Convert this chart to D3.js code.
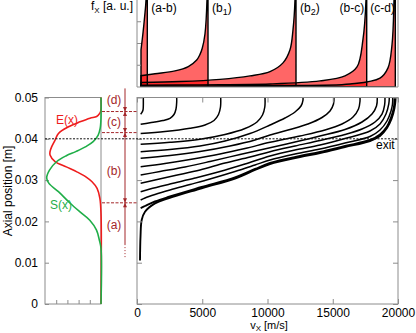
<!DOCTYPE html>
<html>
<head>
<meta charset="utf-8">
<script src="https://cdn.jsdelivr.net/npm/d3@7"></script>
<style>
  body { margin: 0; background: #fff; }
  svg { display: block; font-family: "Liberation Sans", Arial, Helvetica, sans-serif; }
</style>
</head>
<body>
<div id="chart"></div>
<script>
// ---- data ----
const vTicks = [0, 5000, 10000, 15000, 20000];
const posTicks = [0, 0.01, 0.02, 0.03, 0.04, 0.05];
const fTicks = [1, 2, 3];
const profileTicks = [0.2, 0.4, 0.6, 0.8];

// left panel profiles: S(x) source, E(x) field (arbitrary units, 0..1)
const sPos = [0, 0.0135, 0.0155, 0.0179, 0.0203, 0.0223, 0.0244, 0.0272, 0.0292, 0.0305, 0.0324, 0.0345, 0.0359, 0.0369, 0.0381, 0.0393, 0.0409, 0.0425, 0.045, 0.05];
const sVal = [0, 0, 0.03, 0.08, 0.2, 0.375, 0.55, 0.76, 0.93, 0.97, 0.92, 0.79, 0.62, 0.45, 0.27, 0.14, 0.05, 0.015, 0, 0];
const ePos = [0, 0.022, 0.0256, 0.028, 0.0296, 0.0308, 0.032, 0.0332, 0.0345, 0.0361, 0.0369, 0.0381, 0.0397, 0.0413, 0.0429, 0.0441, 0.045, 0.0454, 0.0462, 0.047, 0.05];
const eVal = [0, 0, 0.02, 0.07, 0.16, 0.27, 0.43, 0.62, 0.82, 0.91, 0.91, 0.88, 0.82, 0.76, 0.58, 0.375, 0.196, 0.077, 0.02, 0, 0];

// regions (d) (c) (b) (a)
const regionNames = ["(d)", "(c)", "(b)", "(a)"];
const regionLabelPos = [0.0494, 0.0441, 0.0322, 0.0191];
const regionBounds = [0.0466, 0.0415, 0.0245];
const regionSpan = [0.0522, 0.0145, 0.0110]; // top, end of solid part, bottom
const exitPos = 0.040;

// velocity distributions f_X(v) in the top panel
const distNames = ["(a-b)", "(b1)", "(b2)", "(b-c)", "(c-d)"];
const distCutoffs = [790, 5441, 12184, 17602, 19794];
const distAB = [[307, 1.71], [460, 2.49], [613, 3.41], [690, 4.0], [760, 7]];
const distB1 = [[307, 0.52], [1379, 0.61], [2912, 0.74], [3931, 0.94], [4575, 1.24], [4828, 1.5], [5000, 1.78], [5211, 2.45], [5364, 4.0], [5425, 9]];
const distB2 = [[307, 0.21], [3295, 0.25], [6360, 0.35], [8659, 0.51], [10192, 0.71], [11188, 1.11], [11724, 1.71], [11954, 2.63], [12107, 4.0], [12165, 9]];
const distBC = [[307, 0.08], [4828, 0.10], [10192, 0.14], [14023, 0.28], [15939, 0.51], [16858, 0.92], [17318, 2.2], [17548, 4.0], [17592, 9]];
const distCD = [[307, 0.04], [10192, 0.07], [16322, 0.14], [18621, 0.41], [19234, 0.88], [19540, 1.94], [19694, 4.0], [19785, 9]];

// ion trajectories [v (m/s), axial position (m)]
const trajA = [[280, 0.04593], [383, 0.04637], [460, 0.04697], [483, 0.04794], [483, 0.05]];
const trajB = [[280, 0.04351], [996, 0.04387], [1992, 0.04443], [2529, 0.04496], [2835, 0.04588], [2989, 0.04722], [3042, 0.04891], [3042, 0.05]];
const trajC = [[280, 0.04128], [2146, 0.04174], [4061, 0.04254], [5211, 0.04334], [5901, 0.04443], [6245, 0.04588], [6398, 0.0477], [6414, 0.05]];
const trajD = [[280, 0.03867], [2529, 0.03915], [4828, 0.0399], [6743, 0.04104], [8276, 0.04249], [9196, 0.04407], [9617, 0.04576], [9793, 0.0477], [9809, 0.05]];
const trajE = [[280, 0.03688], [2529, 0.03741], [4828, 0.03826], [6743, 0.03947], [8659, 0.04128], [10192, 0.04334], [11341, 0.04504], [12107, 0.04649], [12567, 0.04794], [12720, 0.04939], [12720, 0.05]];
const trajF = [[280, 0.03528], [2529, 0.03596], [4828, 0.03692], [7126, 0.03826], [9042, 0.03971], [10192, 0.04092], [11724, 0.04225], [13104, 0.04358], [14177, 0.04516], [14790, 0.04673], [15058, 0.04843], [15096, 0.05]];
const trajG = [[280, 0.03324], [2146, 0.03402], [4061, 0.03499], [6360, 0.03632], [8276, 0.03765], [10192, 0.03915], [12491, 0.04068], [14407, 0.04213], [15709, 0.04358], [16552, 0.04528], [16973, 0.04722], [17088, 0.04915], [17088, 0.05]];
const trajH = [[280, 0.03123], [1762, 0.03208], [3678, 0.03317], [5594, 0.0345], [7893, 0.0362], [10192, 0.03785], [12107, 0.03923], [14023, 0.04068], [15939, 0.04225], [17241, 0.04407], [18008, 0.046], [18353, 0.04794], [18414, 0.05]];
const trajI = [[280, 0.02923], [1379, 0.03002], [2912, 0.03111], [4828, 0.03245], [6743, 0.03414], [8659, 0.03559], [10192, 0.03688], [12107, 0.03826], [14023, 0.03959], [15939, 0.04104], [17241, 0.04237], [18238, 0.04407], [18774, 0.046], [18973, 0.04818], [19004, 0.05]];
const trajJ = [[280, 0.02719], [996, 0.02785], [2529, 0.02906], [4445, 0.03051], [6360, 0.03208], [8276, 0.0339], [10192, 0.03584], [12107, 0.03729], [14023, 0.0385], [15939, 0.04007], [17854, 0.04189], [18621, 0.04358], [19080, 0.046], [19295, 0.04843], [19334, 0.05]];
const trajK = [[280, 0.02518], [613, 0.02567], [1379, 0.02651], [2529, 0.0276], [4061, 0.02893], [5594, 0.03027], [7510, 0.03208], [9042, 0.03366], [10192, 0.03487], [12107, 0.03632], [14023, 0.03753], [15939, 0.03898], [17854, 0.04056], [18621, 0.04213], [19157, 0.04431], [19464, 0.04673], [19579, 0.04843], [19594, 0.05]];
const bundle1 = [[230, 0.01053], [268, 0.0163], [360, 0.02034], [613, 0.02235], [1379, 0.02438], [2398, 0.02559], [4958, 0.02801], [7510, 0.03039], [9042, 0.03245], [10192, 0.0339], [12491, 0.03559], [14023, 0.03656], [15939, 0.03801], [17854, 0.03947], [18621, 0.04068], [19157, 0.04262], [19502, 0.04479], [19732, 0.04746], [19809, 0.04939], [19809, 0.05]];
const bundle2 = [[280, 0.02324], [613, 0.02373], [1379, 0.02482], [2398, 0.02591], [4958, 0.02833], [7510, 0.03068], [9042, 0.03269], [10192, 0.03414], [12491, 0.03584], [14023, 0.0368], [15939, 0.03826], [17854, 0.03971], [18621, 0.04104], [19157, 0.04298], [19464, 0.04516], [19678, 0.04746], [19732, 0.04939], [19732, 0.05]];

const dists = [distAB, distB1, distB2, distBC, distCD];
const trajectories = [trajA, trajB, trajC, trajD, trajE, trajF, trajG, trajH, trajI, trajJ, trajK, bundle2, bundle1];

// ---- layout ----
const width = 416, height = 333;
const mainLeft = 137, mainRight = 398, mainTop = 97.5, mainBottom = 304;
const topPanelBottom = 87;
const profLeft = 45, profRight = 101;
const markX = 125;
const gray = "#8c8c8c";
const dark = "#a3262a";

const x = d3.scaleLinear().domain([0, 20000]).range([mainLeft, mainRight]);
const y = d3.scaleLinear().domain([0, 0.05]).range([mainBottom, mainTop]);
const fy = d3.scaleLinear().domain([0, 4]).range([topPanelBottom, 0]);
const px = d3.scaleLinear().domain([0, 1]).range([profRight, profLeft]);

const svg = d3.select("#chart").append("svg")
    .attr("width", width)
    .attr("height", height)
    .attr("viewBox", [0, 0, width, height]);

const defs = svg.append("defs");
defs.append("clipPath").attr("id", "clipTop").append("rect")
    .attr("x", mainLeft).attr("y", 0).attr("width", mainRight - mainLeft).attr("height", topPanelBottom);
defs.append("clipPath").attr("id", "clipMain").append("rect")
    .attr("x", mainLeft).attr("y", mainTop).attr("width", mainRight - mainLeft).attr("height", mainBottom - mainTop);

// ---- top panel: distributions ----
const distLine = d3.line()
    .x(d => x(d[0]))
    .y(d => fy(d[1]))
    .curve(d3.curveCatmullRom.alpha(0.5));

const distPath = (pts, cut) =>
    `M${x(pts[0][0])},${fy(0)}L` + distLine(pts).slice(1) +
    `L${x(cut)},${fy(10)}L${x(cut)},${fy(0)}Z`;

const topG = svg.append("g").attr("clip-path", "url(#clipTop)");
topG.selectAll("path.fill")
  .data(dists)
  .join("path")
    .attr("class", "fill")
    .attr("d", (d, i) => distPath(d, distCutoffs[i]))
    .attr("fill", "#ff0000")
    .attr("fill-opacity", 0.6)
    .attr("stroke", "none");
topG.selectAll("path.edge")
  .data(dists)
  .join("path")
    .attr("class", "edge")
    .attr("d", (d, i) => distPath(d, distCutoffs[i]))
    .attr("fill", "none")
    .attr("stroke", "#000")
    .attr("stroke-width", 1.4);

// top panel frame + ticks
svg.append("path")
    .attr("d", `M${mainLeft},0V${topPanelBottom}H${mainRight}V0`)
    .attr("fill", "none").attr("stroke", gray);
svg.append("g")
  .selectAll("line")
  .data(fTicks)
  .join("line")
    .attr("x1", mainLeft).attr("x2", mainLeft + 4)
    .attr("y1", d => fy(d)).attr("y2", d => fy(d))
    .attr("stroke", gray);

// distribution labels
const labels = svg.append("g").attr("font-size", 12).attr("fill", "#000");
distNames.forEach((name, i) => {
  let lx = x(distCutoffs[i]) + 4, anchor = "start";
  if (name === "(b-c)") { lx = x(distCutoffs[i]) - 2.5; anchor = "end"; }
  if (name === "(c-d)") { lx = x(distCutoffs[i - 1]) + 3.5; }
  const t = labels.append("text").attr("x", lx).attr("y", 12).attr("text-anchor", anchor);
  const m = name.match(/^\(b(\d)\)$/);
  if (m) {
    t.append("tspan").text("(b");
    t.append("tspan").attr("font-size", 9).attr("dy", 3).text(m[1]);
    t.append("tspan").attr("dy", -3).text(")");
  } else {
    t.text(name);
  }
});

// f_X label
const fl = svg.append("text").attr("x", 133).attr("y", 10).attr("text-anchor", "end").attr("font-size", 12);
fl.append("tspan").text("f");
fl.append("tspan").attr("font-size", 8).attr("dy", 3).text("X");
fl.append("tspan").attr("dy", -3).text(" [a. u.]");

// ---- main plot ----
const trajLine = d3.line()
    .x(d => x(d[0]))
    .y(d => y(d[1]))
    .curve(d3.curveCatmullRom.alpha(0.5));

svg.append("g")
    .attr("clip-path", "url(#clipMain)")
  .selectAll("path")
  .data(trajectories)
  .join("path")
    .attr("d", trajLine)
    .attr("fill", "none")
    .attr("stroke", "#000")
    .attr("stroke-width", (d, i) => i >= trajectories.length - 2 ? 1.9 : 1.5);

svg.append("rect")
    .attr("x", mainLeft).attr("y", mainTop)
    .attr("width", mainRight - mainLeft).attr("height", mainBottom - mainTop)
    .attr("fill", "none").attr("stroke", gray);

// x axis (bottom, labelled) and top ticks
svg.append("g")
    .attr("transform", `translate(0,${mainBottom})`)
    .call(d3.axisBottom(x).tickValues(vTicks).tickSizeInner(-5).tickSizeOuter(0).tickPadding(4)
      .tickFormat(d3.format("d")))
    .call(g => g.select(".domain").remove())
    .call(g => g.selectAll("line").attr("stroke", gray))
    .call(g => g.selectAll("text").attr("font-size", 12).attr("font-family", null).attr("fill", "#000"));
svg.append("g")
    .attr("transform", `translate(0,${mainTop})`)
    .call(d3.axisTop(x).tickValues(vTicks).tickSizeInner(-5).tickSizeOuter(0).tickFormat(""))
    .call(g => g.select(".domain").remove())
    .call(g => g.selectAll("line").attr("stroke", gray));

// y ticks on both sides of the main plot
svg.append("g")
    .attr("transform", `translate(${mainLeft},0)`)
    .call(d3.axisLeft(y).tickValues(posTicks).tickSizeInner(-5).tickSizeOuter(0).tickFormat(""))
    .call(g => g.select(".domain").remove())
    .call(g => g.selectAll("line").attr("stroke", gray));
svg.append("g")
    .attr("transform", `translate(${mainRight},0)`)
    .call(d3.axisRight(y).tickValues(posTicks).tickSizeInner(-5).tickSizeOuter(0).tickFormat(""))
    .call(g => g.select(".domain").remove())
    .call(g => g.selectAll("line").attr("stroke", gray));

// x axis title
const xt = svg.append("text").attr("x", 269).attr("y", 329).attr("text-anchor", "middle").attr("font-size", 11);
xt.append("tspan").text("v");
xt.append("tspan").attr("font-size", 8).attr("dy", 2).text("X");
xt.append("tspan").attr("dy", -2).text(" [m/s]");

// ---- left panel: E(x), S(x) ----
svg.append("rect")
    .attr("x", profLeft).attr("y", mainTop)
    .attr("width", profRight - profLeft).attr("height", mainBottom - mainTop)
    .attr("fill", "none").attr("stroke", gray);

svg.append("g")
    .attr("transform", `translate(${profLeft},0)`)
    .call(d3.axisLeft(y).tickValues(posTicks).tickSizeInner(-4).tickSizeOuter(0).tickPadding(7)
      .tickFormat(d => d === 0 ? "0" : d.toFixed(2)))
    .call(g => g.select(".domain").remove())
    .call(g => g.selectAll("line").attr("stroke", gray))
    .call(g => g.selectAll("text").attr("font-size", 12).attr("font-family", null).attr("fill", "#000"));
svg.append("g")
    .attr("transform", `translate(0,${mainBottom})`)
    .call(d3.axisBottom(px).tickValues(profileTicks).tickSizeInner(-4).tickSizeOuter(0).tickFormat(""))
    .call(g => g.select(".domain").remove())
    .call(g => g.selectAll("line").attr("stroke", gray));

const profLine = d3.line()
    .x(d => px(d[1]))
    .y(d => y(d[0]))
    .curve(d3.curveCatmullRom.alpha(0.5));

svg.append("path")
    .attr("d", profLine(d3.zip(ePos, eVal)))
    .attr("fill", "none").attr("stroke", "#ee1c1c").attr("stroke-width", 1.6);
svg.append("path")
    .attr("d", profLine(d3.zip(sPos, sVal)))
    .attr("fill", "none").attr("stroke", "#1fae48").attr("stroke-width", 1.6);

svg.append("text").attr("x", 56).attr("y", 124).attr("font-size", 12).attr("fill", "#ee1c1c").text("E(x)");
svg.append("text").attr("x", 50).attr("y", 209).attr("font-size", 12).attr("fill", "#1fae48").text("S(x)");

// y axis title
svg.append("text")
    .attr("transform", `translate(12,191) rotate(-90)`)
    .attr("text-anchor", "middle").attr("font-size", 12)
    .text("Axial position [m]");

// ---- region markers ----
const marks = svg.append("g").attr("stroke", dark).attr("fill", dark);
marks.selectAll("line.bound")
  .data(regionBounds)
  .join("line")
    .attr("class", "bound")
    .attr("x1", profRight + 1).attr("x2", mainLeft)
    .attr("y1", d => y(d)).attr("y2", d => y(d))
    .attr("stroke-width", 1).attr("stroke-dasharray", "3,1.5");
marks.append("line")
    .attr("x1", markX).attr("x2", markX)
    .attr("y1", y(regionSpan[0])).attr("y2", y(regionSpan[1]))
    .attr("stroke-width", 1);
marks.append("line")
    .attr("x1", markX).attr("x2", markX)
    .attr("y1", y(regionSpan[1])).attr("y2", y(regionSpan[2]))
    .attr("stroke-width", 1).attr("stroke-dasharray", "1,2");
marks.selectAll("path.arrow")
  .data(regionBounds.flatMap(b => [[b, -1], [b, 1]]))
  .join("path")
    .attr("class", "arrow")
    .attr("d", d => {
      const yb = y(d[0]), s = d[1];
      return `M${markX},${yb}L${markX - 2},${yb + s * 4.5}L${markX + 2},${yb + s * 4.5}Z`;
    })
    .attr("stroke", "none");
marks.selectAll("text")
  .data(regionNames)
  .join("text")
    .attr("x", 114).attr("y", (d, i) => y(regionLabelPos[i]))
    .attr("dy", "0.35em")
    .attr("text-anchor", "middle")
    .attr("font-size", 12)
    .attr("stroke", "none")
    .text(d => d);

// exit line
svg.append("line")
    .attr("x1", profLeft).attr("x2", mainRight)
    .attr("y1", y(exitPos)).attr("y2", y(exitPos))
    .attr("stroke", "#111").attr("stroke-width", 1).attr("stroke-dasharray", "2,1.5");
svg.append("text").attr("x", 376).attr("y", 149).attr("font-size", 12).text("exit");
</script>
</body>
</html>
